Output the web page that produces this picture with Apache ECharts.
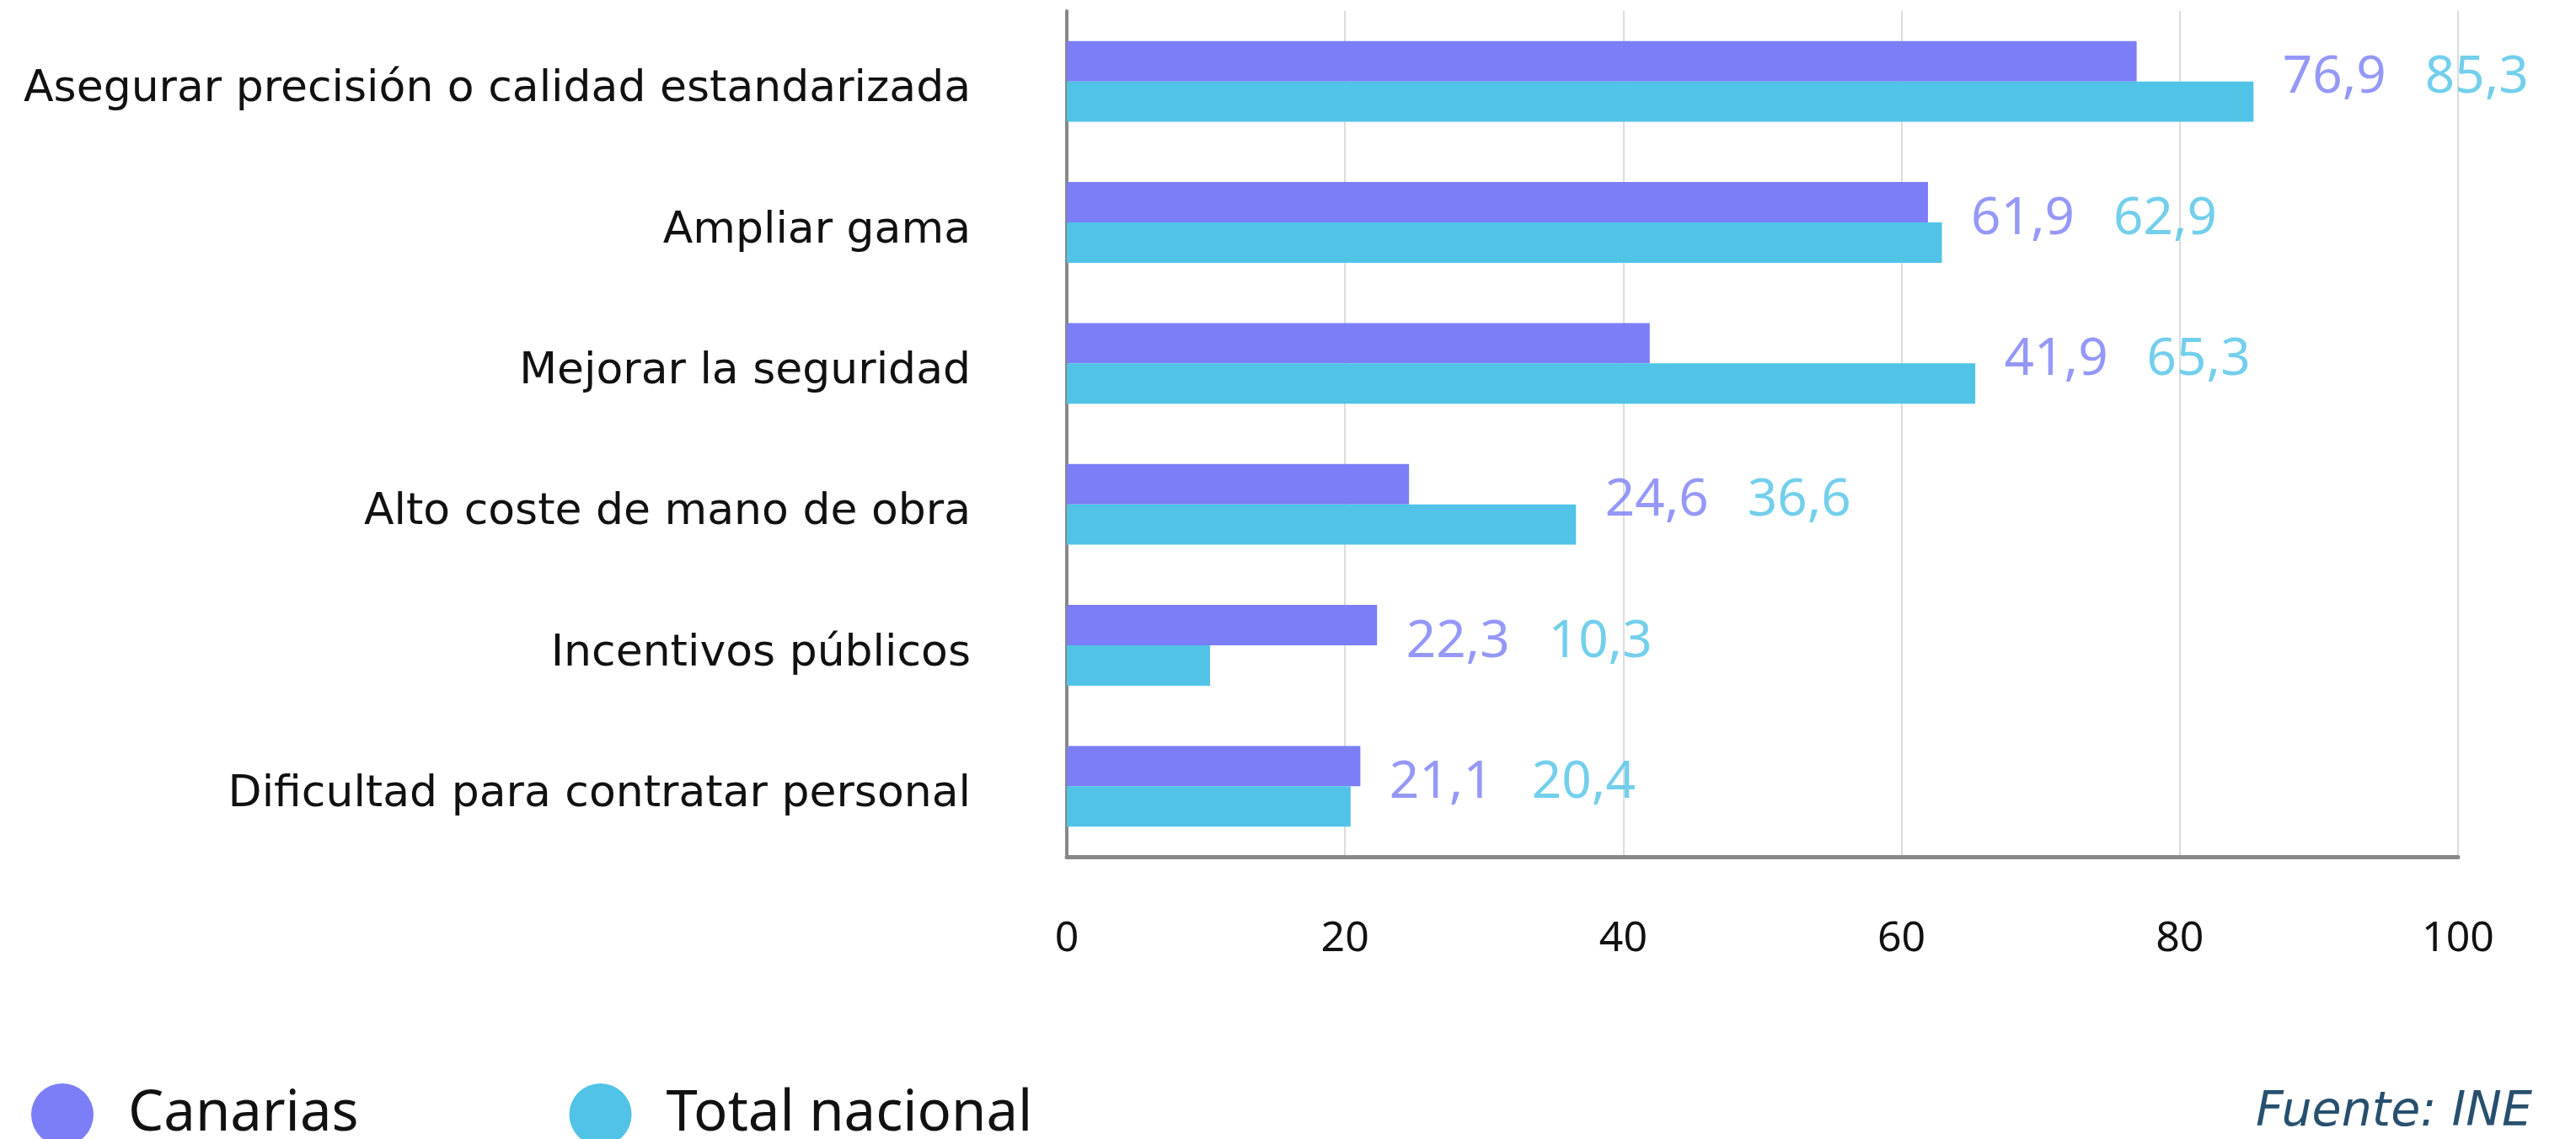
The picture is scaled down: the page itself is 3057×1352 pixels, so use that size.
<!DOCTYPE html>
<html>
<head>
<meta charset="utf-8">
<script src="https://cdn.jsdelivr.net/npm/echarts@6/dist/echarts.min.js"></script>
<style>
  html, body { margin: 0; padding: 0; background: #fff; }
  #chart { width: 3057px; height: 1352px; }
</style>
</head>
<body>
<div id="chart"></div>
<script>
var categories = [
    'Asegurar precisión o calidad estandarizada',
    'Ampliar gama',
    'Mejorar la seguridad',
    'Alto coste de mano de obra',
    'Incentivos públicos',
    'Dificultad para contratar personal'
];
var canarias = [76.9, 61.9, 41.9, 24.6, 22.3, 21.1];
var totalNacional = [85.3, 62.9, 65.3, 36.6, 10.3, 20.4];
var xTicks = [0, 20, 40, 60, 80, 100];

var colCanarias = '#7b7ef6';
var colTotal = '#50c3e7';
var font = 'Noto Sans';
var wideFont = 'DejaVu Sans';

function fmt(v) {
    return v.toFixed(1).replace('.', ',');
}

// etiquetas de valor: un punto invisible al final de la barra más larga
var labelData = categories.map(function (c, i) {
    return {
        value: [Math.max(canarias[i], totalNacional[i]), i],
        a: fmt(canarias[i]),
        b: fmt(totalNacional[i])
    };
});

var chart = echarts.init(document.getElementById('chart'));

var option = {
    animation: false,
    backgroundColor: '#fff',
    grid: {
        left: 1266,
        right: 140,
        top: 13,
        bottom: 335,
        containLabel: false
    },
    legend: {
        data: ['Canarias', 'Total nacional'],
        left: 32,
        top: 1281,
        icon: 'circle',
        itemWidth: 74,
        itemHeight: 74,
        itemGap: 250,
        textStyle: {
            fontFamily: font,
            fontSize: 67,
            color: '#111',
            padding: [0, 0, 0, 36]
        }
    },
    xAxis: {
        type: 'value',
        min: 0,
        max: 100,
        interval: 20,
        axisLine: { show: true, lineStyle: { color: '#888', width: 5 } },
        axisTick: { show: false },
        splitLine: { show: true, lineStyle: { color: '#dcdcdc', width: 2 } },
        axisLabel: {
            margin: 73,
            fontFamily: font,
            fontSize: 50,
            color: '#111',
            formatter: function (v) { return xTicks.indexOf(v) >= 0 ? String(v) : ''; }
        }
    },
    yAxis: {
        type: 'category',
        data: categories,
        inverse: true,
        axisLine: { show: true, lineStyle: { color: '#888', width: 4 } },
        axisTick: { show: false },
        axisLabel: {
            margin: 114,
            formatter: function (v) { return '{l|' + v + '}'; },
            rich: {
                l: {
                    fontFamily: wideFont,
                    fontSize: 52,
                    color: '#111',
                    padding: [20, 0, 0, 0]
                }
            }
        }
    },
    series: [
        {
            name: 'Canarias',
            type: 'bar',
            data: canarias,
            barGap: '0%',
            barCategoryGap: '42.7%',
            itemStyle: { color: colCanarias }
        },
        {
            name: 'Total nacional',
            type: 'bar',
            data: totalNacional,
            barGap: '0%',
            barCategoryGap: '42.7%',
            itemStyle: { color: colTotal }
        },
        {
            name: 'etiquetas',
            type: 'scatter',
            data: labelData,
            symbolSize: 1,
            itemStyle: { color: 'rgba(0,0,0,0)' },
            silent: true,
            label: {
                show: true,
                position: 'right',
                distance: 34,
                offset: [0, -4],
                formatter: function (p) {
                    return '{a|' + p.data.a + '}{b|' + p.data.b + '}';
                },
                rich: {
                    a: { fontFamily: font, fontSize: 62, color: colCanarias },
                    b: { fontFamily: font, fontSize: 62, color: colTotal, padding: [0, 0, 0, 46] }
                }
            }
        }
    ],
    graphic: [
        {
            type: 'text',
            right: 52,
            top: 1293,
            style: {
                text: 'Fuente: INE',
                font: 'oblique 57px "DejaVu Sans"',
                fill: '#27506f'
            }
        }
    ]
};

chart.setOption(option);
window.addEventListener('resize', function () {
    chart.resize();
});
</script>
</body>
</html>
